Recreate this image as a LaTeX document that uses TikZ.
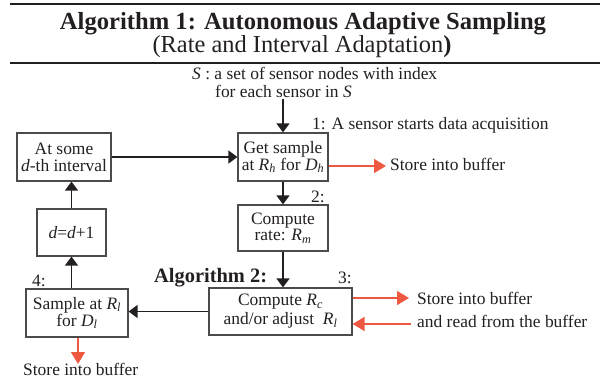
\documentclass[tikz,border=0pt]{standalone}
\usepackage{fontspec}
\setmainfont{Liberation Serif}
\usetikzlibrary{arrows.meta,positioning}
\definecolor{ink}{RGB}{35,31,32}
\definecolor{boxline}{RGB}{75,75,75}
\definecolor{bufred}{RGB}{239,88,64}
\newcommand{\bodyfont}{\fontsize{17.5}{17}\selectfont}
\newcommand{\rsub}[2]{\textit{#1}\textsubscript{\textit{#2}}}
\tikzstyle{block}=[draw=boxline,line width=1.2bp,align=center,inner sep=2bp,font=\bodyfont]
\tikzstyle{note}=[inner sep=0pt,font=\bodyfont]
\tikzstyle{flow}=[draw=ink,line width=1.5bp,-{Triangle[length=9bp,width=13bp]}]
\tikzstyle{buf}=[draw=bufred,line width=1.4bp,-{Triangle[length=12bp,width=14bp]}]

\begin{document}
\begin{tikzpicture}[x=1bp,y=-1bp,text=ink]
    \useasboundingbox (0,0) rectangle (600,379);
    % Header with the two rules
    \draw[ink,line width=2bp] (10,4) -- (600,4);
    \draw[ink,line width=2bp] (10,63) -- (600,63);
    \node[anchor=base,font=\fontsize{24.7}{24}\selectfont\bfseries] (title) at (303,29)
        {Algorithm 1: Autonomous Adaptive Sampling};
    \node[anchor=base,font=\fontsize{24.5}{24}\selectfont] (subtitle) at (302,52)
        {(Rate and Interval Adaptation\textbf{)}};
    % Input set
    \node[note,anchor=base west] (setline) at (192,79) {\textit{S} : a set of sensor nodes with index};
    \node[note,anchor=base west,inner sep=2bp] (forline) at (213,97) {for each sensor in \textit{S}};
    % The blocks
    \node[block,minimum width=90bp,minimum height=48bp] (getsample) at (283,157)
        {Get sample\\at \rsub{R}{h} for \rsub{D}{h}};
    \node[block,minimum width=90bp,minimum height=46bp] (computerate) at (283,228)
        {Compute\\rate: \rsub{R}{m}};
    \node[block,minimum width=143bp,minimum height=47bp] (computerc) at (280.5,311.5)
        {Compute \rsub{R}{c}\\[2bp]and/or adjust~~\rsub{R}{l}};
    \node[block,minimum width=102bp,minimum height=48bp] (sampler) at (77,313)
        {Sample at \rsub{R}{l}\\for \rsub{D}{l}};
    \node[block,minimum width=69bp,minimum height=47bp] (incr) at (71.5,232.5)
        {\textit{d}=\textit{d}+1};
    \node[block,minimum width=94bp,minimum height=48bp] (atsome) at (64,157)
        {At some\\\textit{d}-th interval};
    % Step labels
    \node[note,anchor=base west] (step1) at (312,129) {1: A sensor starts data acquisition};
    \node[note,anchor=base west] (step2) at (311,202) {2:};
    \node[note,anchor=base west] (step3) at (338,283) {3:};
    \node[note,anchor=base west] (step4) at (32,286) {4:};
    \node[anchor=base west,inner sep=0pt,font=\fontsize{20.5}{20.5}\selectfont\bfseries] (alg2) at (154,282)
        {Algorithm 2:};
    % Buffer notes
    \node[note,anchor=base west] (store1) at (390,170) {Store into buffer};
    \node[note,anchor=base west] (store2) at (417,304) {Store into buffer};
    \node[note,anchor=base west] (readbuf) at (417,327) {and read from the buffer};
    \node[note,anchor=base west] (store3) at (23,375) {Store into buffer};
    % Main flow
    \draw[flow] (getsample.north |- forline.south) -- (getsample.north);
    \draw[flow] (atsome.east) -- (getsample.west);
    \draw[flow] (getsample.south) -- (computerate.north);
    \draw[flow] (computerate.south) -- (computerate.south |- computerc.north);
    \draw[flow] (computerc.west) -- (computerc.west -| sampler.east);
    \draw[flow] (sampler.north -| incr.south) -- (incr.south);
    \draw[flow] (incr.north) -- (incr.north |- atsome.south);
    % Buffer traffic
    \coordinate (bufin) at (386,166);
    \coordinate (bufout) at (409,298);
    \coordinate (bufread) at (411,324);
    \coordinate (bufdown) at (78,364);
    \draw[buf] (getsample.east |- bufin) -- (bufin);
    \draw[buf] (computerc.east |- bufout) -- (bufout);
    \draw[buf] (bufread) -- (computerc.east |- bufread);
    \draw[buf] (sampler.south -| bufdown) -- (bufdown);
\end{tikzpicture}
\end{document}
